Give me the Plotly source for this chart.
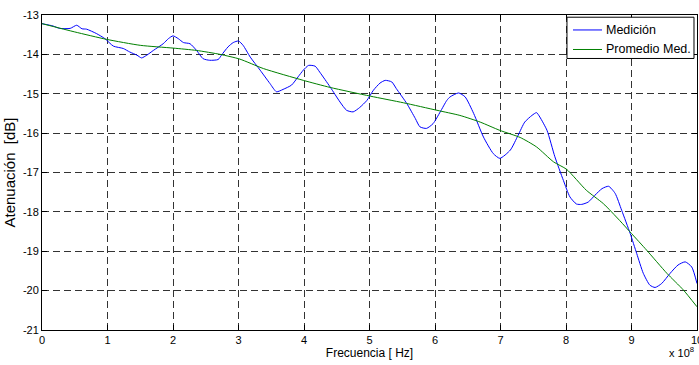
import plotly.graph_objects as go

# Frequency in units of 1e8 Hz for the measured curve
med_x = [0.0, 0.17, 0.27, 0.43, 0.53, 0.61, 0.68, 0.83, 0.96, 1.09, 1.24, 1.34, 1.45, 1.52, 1.60,
         1.70, 1.85, 1.93, 2.00, 2.08, 2.16, 2.26, 2.36, 2.46, 2.56, 2.69, 2.74, 2.84, 2.92, 3.00,
         3.07, 3.18, 3.33, 3.48, 3.58, 3.68, 3.81, 3.91, 3.99, 4.07, 4.17, 4.24, 4.40, 4.55, 4.65,
         4.75, 4.85, 4.96, 5.06, 5.16, 5.24, 5.34, 5.41, 5.57, 5.70, 5.77, 5.87, 5.97, 6.08, 6.18,
         6.23, 6.36, 6.46, 6.59, 6.74, 6.89, 6.99, 7.15, 7.27, 7.37, 7.48, 7.55, 7.60, 7.71, 7.83,
         7.96, 8.06, 8.16, 8.24, 8.34, 8.44, 8.55, 8.65, 8.75, 8.85, 8.98, 9.08, 9.18, 9.28, 9.36,
         9.46, 9.59, 9.71, 9.82, 9.92, 10.0]
med_y = [-13.22, -13.28, -13.34, -13.34, -13.26, -13.35, -13.36, -13.47, -13.60, -13.79, -13.85,
         -13.94, -14.02, -14.09, -14.02, -13.90, -13.73, -13.60, -13.53, -13.60, -13.70, -13.73,
         -13.90, -14.11, -14.15, -14.13, -14.02, -13.81, -13.70, -13.66, -13.77, -14.07, -14.40,
         -14.74, -14.95, -14.89, -14.78, -14.57, -14.40, -14.28, -14.30, -14.45, -14.83, -15.21,
         -15.42, -15.46, -15.35, -15.17, -14.91, -14.73, -14.66, -14.70, -14.87, -15.25, -15.63,
         -15.84, -15.88, -15.76, -15.46, -15.17, -15.08, -14.98, -15.08, -15.50, -16.10, -16.52,
         -16.64, -16.43, -16.05, -15.72, -15.55, -15.48, -15.59, -15.93, -16.60, -17.20, -17.62,
         -17.80, -17.81, -17.75, -17.58, -17.41, -17.35, -17.53, -17.96, -18.55, -19.06, -19.56,
         -19.86, -19.92, -19.82, -19.56, -19.35, -19.27, -19.40, -19.82]

prom_x = [0.0, 0.5, 0.99, 1.5, 2.0, 2.36, 2.72, 3.02, 3.38, 3.99, 4.40, 5.01, 5.52, 6.03, 6.38,
          6.69, 6.99, 7.30, 7.55, 7.81, 8.01, 8.31, 8.57, 8.82, 9.00, 9.23, 9.54, 9.79, 10.0]
prom_y = [-13.22, -13.43, -13.62, -13.77, -13.84, -13.90, -14.00, -14.12, -14.36, -14.66, -14.84,
          -15.06, -15.23, -15.42, -15.55, -15.72, -15.93, -16.11, -16.35, -16.73, -16.92, -17.45,
          -17.79, -18.22, -18.55, -18.97, -19.56, -19.98, -20.41]

series_names = ["Medición", "Promedio Med."]
series_colors = ["#0000FF", "#008000"]

x_ticks = list(range(0, 11))
y_ticks = list(range(-21, -12))

SCALE = 1e8
FONT = "Liberation Sans, Arial, sans-serif"

fig = go.Figure()
fig.add_trace(go.Scatter(x=[v * SCALE for v in med_x], y=med_y, mode="lines", name=series_names[0],
                         line=dict(color=series_colors[0], width=1, shape="spline", smoothing=0.6)))
fig.add_trace(go.Scatter(x=[v * SCALE for v in prom_x], y=prom_y, mode="lines", name=series_names[1],
                         line=dict(color=series_colors[1], width=1, shape="spline", smoothing=0.6)))

axis_common = dict(showline=True, linecolor="black", linewidth=1, mirror="ticks",
                   ticks="inside", ticklen=5, tickcolor="black", tickwidth=1,
                   showgrid=True, gridcolor="#333333", gridwidth=1, griddash="7px,4px",
                   zeroline=False, automargin=False,
                   tickfont=dict(family=FONT, size=11, color="black"))

fig.update_xaxes(range=[0, 10 * SCALE], tickvals=[t * SCALE for t in x_ticks],
                 ticktext=[str(t) for t in x_ticks], ticklabeloverflow="allow",
                 title=dict(text="Frecuencia [ Hz]", font=dict(family=FONT, size=12, color="black"), standoff=3),
                 **axis_common)
fig.update_yaxes(range=[-21, -13], tickvals=y_ticks, ticktext=[str(t) for t in y_ticks],
                 title=dict(text="Atenuación  [dB]", font=dict(family=FONT, size=15, color="black"), standoff=3),
                 **axis_common)

fig.add_annotation(text="x 10<sup>8</sup>", xref="paper", yref="paper", x=0.998, y=-0.098,
                   xanchor="right", yanchor="bottom", showarrow=False,
                   font=dict(family=FONT, size=11, color="black"))

# Manual legend box (MATLAB style)
bx0, bx1, by0, by1 = 0.8015, 0.9954, 0.8620, 0.9930
fig.add_shape(type="rect", xref="paper", yref="paper", x0=bx0, x1=bx1, y0=by0, y1=by1,
              line=dict(color="black", width=1), fillcolor="white", layer="above")
entry_y = [0.9525, 0.8905]
for name, color, yy in zip(series_names, series_colors, entry_y):
    fig.add_shape(type="line", xref="paper", yref="paper", x0=0.8107, x1=0.8550, y0=yy, y1=yy,
                  line=dict(color=color, width=1), layer="above")
    fig.add_annotation(text=name, xref="paper", yref="paper", x=0.8575, y=yy,
                       xanchor="left", yanchor="middle", showarrow=False,
                       font=dict(family=FONT, size=12.5, color="black"))

fig.update_layout(
    width=699, height=365,
    margin=dict(l=42, r=2, t=15, b=35),
    paper_bgcolor="white", plot_bgcolor="white",
    font=dict(family=FONT, size=11, color="black"),
    showlegend=False,
)

fig.write_html("out.html")
